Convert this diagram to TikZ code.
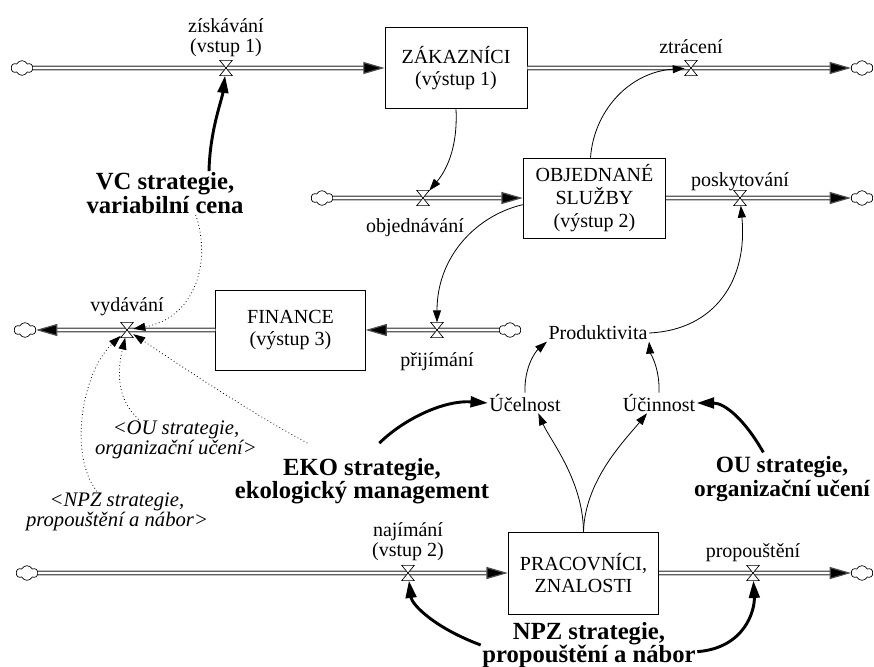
\documentclass[tikz,border=0pt]{standalone}
\usepackage{fontspec}
\setmainfont{Liberation Serif}
\usetikzlibrary{arrows.meta,shapes.symbols}

% hourglass valve drawn over a flow pipe
\newcommand\drawvalve[1]{\draw[valveline] (#1.north west) -- (#1.north east) -- (#1.south west) -- (#1.south east) -- cycle;}

\tikzset{
  stock/.style={draw, line width=0.6pt, align=center, inner sep=0pt, font=\fontsize{15}{17}\selectfont},
  source/.style={cloud, cloud puffs=6, cloud puff arc=130, aspect=1.5, draw, line width=0.5pt, minimum width=16pt, minimum height=11pt, inner sep=0pt},
  valvept/.style={minimum width=9pt, minimum height=11pt, inner sep=0pt},
  valveline/.style={line width=0.5pt, fill=white},
  pipe/.style={draw=black!70, line width=0.9pt, double=white, double distance=1.6pt, -{Triangle[length=16pt,width=9pt,fill=black]}},
  lbl/.style={align=center, inner sep=1pt, font=\fontsize{15}{15}\selectfont},
  strat/.style={align=center, inner sep=1pt, font=\fontsize{18.5}{17.5}\selectfont\bfseries},
  shadow/.style={align=center, inner sep=1pt, font=\fontsize{15.5}{15}\selectfont\itshape},
  link/.style={line width=0.6pt, -{Triangle[length=9pt,width=6pt]}},
  strong/.style={line width=2.2pt, -{Triangle[length=13pt,width=8pt]}},
  dotlink/.style={dotted, line width=0.6pt, -{Triangle[length=9pt,width=6pt]}},
}

\begin{document}
\begin{tikzpicture}[x=0.75pt, y=-0.75pt]
  \useasboundingbox (0,0) rectangle (874,667);

  % stocks
  \node[stock, minimum width=106.5pt, minimum height=61pt] (zak) at (456,68) {ZÁKAZNÍCI\\(výstup 1)};
  \node[stock, minimum width=107pt, minimum height=60pt] (obj) at (594.5,198) {OBJEDNANÉ\\SLUŽBY\\(výstup 2)};
  \node[stock, minimum width=112pt, minimum height=60pt] (fin) at (290.5,330) {FINANCE\\(výstup 3)};
  \node[stock, minimum width=113pt, minimum height=61.5pt] (prac) at (583.5,573) {PRACOVNÍCI,\\ZNALOSTI};

  % sources and sinks
  \node[source] (c1) at (22,68) {};
  \node[source] (c2) at (862,68) {};
  \node[source] (c3) at (322,198) {};
  \node[source] (c4) at (862,198) {};
  \node[source] (c5) at (510,330) {};
  \node[source] (c6) at (25,330) {};
  \node[source] (c7) at (27,573) {};
  \node[source] (c8) at (862,573) {};

  % valves
  \node[valvept] (vzis) at (226,68) {};
  \node[valvept] (vztr) at (691,68) {};
  \node[valvept] (vobj) at (423,198) {};
  \node[valvept] (vpos) at (740,198) {};
  \node[valvept] (vpri) at (437,330) {};
  \node[valvept] (vvyd) at (127,330) {};
  \node[valvept] (vnaj) at (408,573) {};
  \node[valvept] (vpro) at (753,573) {};

  % flows
  \draw[pipe] (c1) -- (zak);
  \draw[pipe] (zak) -- (c2);
  \draw[pipe] (c3) -- (obj);
  \draw[pipe] (obj) -- (c4);
  \draw[pipe] (c5) -- (fin);
  \draw[pipe] (fin) -- (c6);
  \draw[pipe] (c7) -- (prac);
  \draw[pipe] (prac) -- (c8);
  \foreach \v in {vzis,vztr,vobj,vpos,vpri,vvyd,vnaj,vpro} {\drawvalve{\v}}

  % rate names
  \node[lbl] (lzis) at (226,38) {získávání\\(vstup 1)};
  \node[lbl] (lztr) at (691,47) {ztrácení};
  \node[lbl] (lobj) at (415,228) {objednávání};
  \node[lbl] (lpos) at (740,182) {poskytování};
  \node[lbl] (lpri) at (437,362) {přijímání};
  \node[lbl] (lvyd) at (127,307) {vydávání};
  \node[lbl] (lnaj) at (408,542) {najímání\\(vstup 2)};
  \node[lbl] (lpro) at (753,553) {propouštění};

  % auxiliaries and strategies
  \node[lbl] (prod) at (598,333) {Produktivita};
  \node[lbl] (ucel) at (525,403) {Účelnost};
  \node[lbl] (ucin) at (659,403) {Účinnost};
  \node[strat] (vc) at (165,193) {VC strategie,\\variabilní cena};
  \node[strat] (eko) at (362,481) {EKO strategie,\\ekologický management};
  \node[strat, font=\fontsize{17.5}{17.5}\selectfont\bfseries] (ou) at (782,479) {OU strategie,\\organizační učení};
  \node[strat] (npz) at (589,645) {NPZ strategie,\\propouštění a nábor};
  \node[shadow] (ouref) at (176,440) {<OU strategie,\\organizační učení>};
  \node[shadow] (npzref) at (117,512) {<NPZ strategie,\\propouštění a nábor>};

  % information links
  \draw[link] (zak.south) .. controls (458,150) and (445,172) .. (vobj);
  \draw[link] ([xshift=-3pt]obj.north) .. controls (594,110) and (630,72) .. (vztr);
  \draw[link] ([yshift=-5pt]obj.west) .. controls (478,215) and (437,255) .. (vpri);
  \draw[link] (prod.east) .. controls (715,330) and (748,280) .. (vpos);
  \draw[link] (ucel.north) .. controls (524,368) and (535,352) .. (prod.south west);
  \draw[link] (ucin.north) .. controls (660,368) and (650,352) .. (prod.south east);
  \draw[link] (prac.north) .. controls (583,480) and (550,440) .. ([xshift=10pt]ucel.south);
  \draw[link] (prac.north) .. controls (585,480) and (625,440) .. ([xshift=-9pt]ucin.south);

  % strategy links
  \draw[strong] ([xshift=33pt]vc.north) .. controls (210,130) and (222,100) .. (vzis);
  \draw[strong] ([xshift=13pt,yshift=10pt]eko.north) .. controls (405,418) and (445,400) .. (ucel.west);
  \draw[strong] ([xshift=-14pt,yshift=2pt]ou.north) .. controls (745,420) and (725,403) .. (ucin.east);
  \draw[strong] (npz.west) .. controls (435,628) and (412,605) .. (vnaj);
  \draw[strong] ([yshift=-5pt]npz.east) .. controls (745,648) and (755,610) .. (vpro);

  % spending drivers
  \draw[dotlink] ([xshift=23pt]vc.south) .. controls (212,262) and (195,318) .. (vvyd);
  \draw[dotlink] ([xshift=-28pt]ouref.north) .. controls (115,398) and (118,368) .. (vvyd);
  \draw[dotlink] ([xshift=-15pt]npzref.north) .. controls (68,455) and (82,372) .. (vvyd);
  \draw[dotlink] ([xshift=-41pt,yshift=10pt]eko.north) .. controls (250,412) and (190,372) .. (vvyd);
\end{tikzpicture}
\end{document}
